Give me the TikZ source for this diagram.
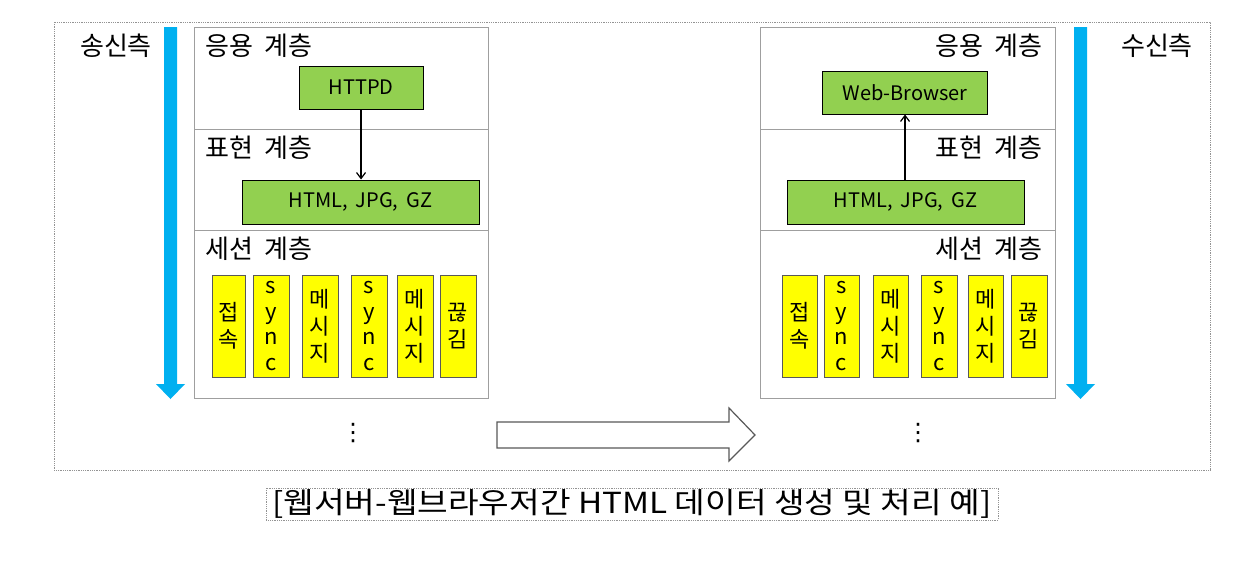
\documentclass[tikz,border=0pt]{standalone}
\usepackage{fontspec}
\setmainfont{Noto Sans CJK KR}
\newfontfamily\symfont{DejaVu Sans}
\usetikzlibrary{arrows.meta}
\definecolor{ablue}{HTML}{00B0F0}
\definecolor{lgreen}{HTML}{92D050}
\definecolor{yel}{HTML}{FFFF00}
\newcommand\lblfont{\fontsize{26}{26}\selectfont\spaceskip=0.45em\relax}
\begin{document}
\begin{tikzpicture}[x=1pt,y=-1pt,
  frame/.style={draw=gray!85, densely dotted, line width=0.8pt},
  layerbox/.style={draw=gray!75, line width=0.8pt},
  greenbox/.style={draw=black, line width=1pt, fill=lgreen, inner sep=0pt, font=\fontsize{20}{20}\selectfont},
  ybox/.style={draw=black!65, line width=1pt, fill=yel, inner sep=0pt, align=center, minimum height=102pt},
  hbox/.style={ybox, font=\fontsize{22}{27}\selectfont},
  sbox/.style={ybox, font=\fontsize{22}{25.5}\selectfont},
  lbl/.style={font=\lblfont, inner sep=0pt},
  conn/.style={-{Straight Barb[length=6pt,width=9pt]}, line width=1.2pt},
  bluearrow/.style={fill=ablue, draw=none},
  dots/.style={font=\symfont\fontsize{24}{24}\selectfont, inner sep=0pt}
]
\useasboundingbox (0,0) rectangle (1239,565);
\fill[white] (0,0) rectangle (1239,565);

% outer frame
\draw[frame] (54,22) rectangle (1210,470);

% ---------- left (sender) ----------
\node[lbl] (send) at (116,46) {송신측};
\fill[bluearrow] (164,27) -- (177,27) -- (177,384) -- (185,384) -- (170.5,399) -- (156,384) -- (164,384) -- cycle;
\draw[layerbox] (194,27) rectangle (488,398);
\draw[layerbox] (194,129) -- (488,129);
\draw[layerbox] (194,230) -- (488,230);
\node[lbl, anchor=west] (appL) at (205,46) {응용 계층};
\node[lbl, anchor=west] (preL) at (205,148) {표현 계층};
\node[lbl, anchor=west] (sesL) at (205,249) {세션 계층};
\node[greenbox, minimum width=124pt, minimum height=43pt] (httpd) at (361,87.5) {HTTPD};
\node[greenbox, minimum width=237pt, minimum height=44pt] (fmtL) at (360.5,202) {HTML,\, JPG,\, GZ};
\draw[conn] (httpd.south) -- (httpd.south |- fmtL.north);
\node[hbox, minimum width=33pt] (l1) at (228.5,326) {접\\속};
\node[sbox, minimum width=36pt] (l2) at (271,326) {s\\y\\n\\c};
\node[hbox, minimum width=36pt] (l3) at (320,326) {메\\시\\지};
\node[sbox, minimum width=36pt] (l4) at (369,326) {s\\y\\n\\c};
\node[hbox, minimum width=36pt] (l5) at (415,326) {메\\시\\지};
\node[hbox, minimum width=36pt] (l6) at (458,326) {끊\\김};
\node[dots] (dotL) at (353,433) {⋮};

% ---------- block arrow ----------
\draw[draw=black!65, line width=1.2pt, fill=white] (497,422) -- (729,422) -- (729,408) -- (755,435) -- (729,461) -- (729,448) -- (497,448) -- cycle;

% ---------- right (receiver) ----------
\node[lbl] (recv) at (1157,46) {수신측};
\fill[bluearrow] (1074,27) -- (1087,27) -- (1087,384) -- (1095,384) -- (1080.5,399) -- (1066,384) -- (1074,384) -- cycle;
\draw[layerbox] (760,27) rectangle (1055,398);
\draw[layerbox] (760,129) -- (1055,129);
\draw[layerbox] (760,230) -- (1055,230);
\node[lbl, anchor=east] (appR) at (1043,46) {응용 계층};
\node[lbl, anchor=east] (preR) at (1043,148) {표현 계층};
\node[lbl, anchor=east] (sesR) at (1043,249) {세션 계층};
\node[greenbox, minimum width=165pt, minimum height=43pt] (web) at (905,92.5) {Web-Browser};
\node[greenbox, minimum width=237pt, minimum height=44pt] (fmtR) at (905.5,202) {HTML,\, JPG,\, GZ};
\draw[conn] (web.south |- fmtR.north) -- (web.south);
\node[hbox, minimum width=35pt] (r1) at (799.5,326) {접\\속};
\node[sbox, minimum width=35pt] (r2) at (841.5,326) {s\\y\\n\\c};
\node[hbox, minimum width=35pt] (r3) at (890.5,326) {메\\시\\지};
\node[sbox, minimum width=36pt] (r4) at (939,326) {s\\y\\n\\c};
\node[hbox, minimum width=35pt] (r5) at (985.5,326) {메\\시\\지};
\node[hbox, minimum width=36pt] (r6) at (1029,326) {끊\\김};
\node[dots] (dotR) at (918,433) {⋮};

% ---------- caption ----------
\draw[frame] (266,488) rectangle (998,520);
\node[inner sep=0pt] (caption) at (632,504) {\resizebox{719pt}{\height}{\fontsize{29}{29}\selectfont [웹서버-웹브라우저간 HTML 데이터 생성 및 처리 예]}};
\end{tikzpicture}
\end{document}
